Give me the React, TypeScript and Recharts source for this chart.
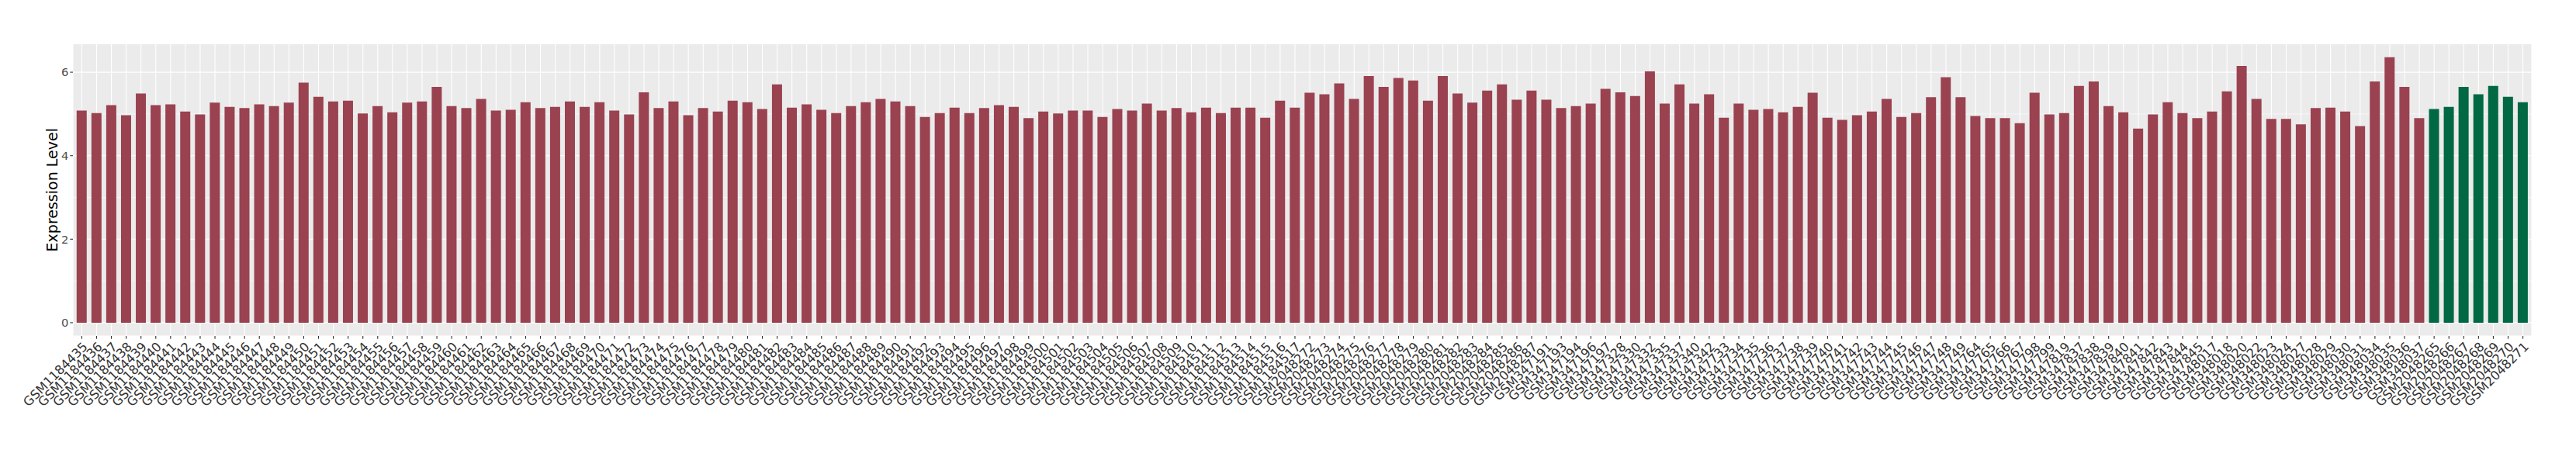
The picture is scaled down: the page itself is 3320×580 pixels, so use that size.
import { BarChart, Bar, Cell, XAxis, YAxis, CartesianGrid } from 'recharts'

// sample groups (x categories)
const SAMPLES_A = [
  'GSM1184435', 'GSM1184436', 'GSM1184437', 'GSM1184438', 'GSM1184439', 'GSM1184440', 'GSM1184441', 'GSM1184442',
  'GSM1184443', 'GSM1184444', 'GSM1184445', 'GSM1184446', 'GSM1184447', 'GSM1184448', 'GSM1184449', 'GSM1184450',
  'GSM1184451', 'GSM1184452', 'GSM1184453', 'GSM1184454', 'GSM1184455', 'GSM1184456', 'GSM1184457', 'GSM1184458',
  'GSM1184459', 'GSM1184460', 'GSM1184461', 'GSM1184462', 'GSM1184463', 'GSM1184464', 'GSM1184465', 'GSM1184466',
  'GSM1184467', 'GSM1184468', 'GSM1184469', 'GSM1184470', 'GSM1184471', 'GSM1184472', 'GSM1184473', 'GSM1184474',
  'GSM1184475', 'GSM1184476', 'GSM1184477', 'GSM1184478', 'GSM1184479', 'GSM1184480', 'GSM1184481', 'GSM1184482',
  'GSM1184483', 'GSM1184484', 'GSM1184485', 'GSM1184486', 'GSM1184487', 'GSM1184488', 'GSM1184489', 'GSM1184490',
  'GSM1184491', 'GSM1184492', 'GSM1184493', 'GSM1184494', 'GSM1184495', 'GSM1184496', 'GSM1184497', 'GSM1184498',
  'GSM1184499', 'GSM1184500', 'GSM1184501', 'GSM1184502', 'GSM1184503', 'GSM1184504', 'GSM1184505', 'GSM1184506',
  'GSM1184507', 'GSM1184508', 'GSM1184509', 'GSM1184510', 'GSM1184511', 'GSM1184512', 'GSM1184513', 'GSM1184514',
  'GSM1184515', 'GSM1184516', 'GSM1184517',
]
const SAMPLES_B = [
  'GSM2048272', 'GSM2048273', 'GSM2048274', 'GSM2048275', 'GSM2048276', 'GSM2048277', 'GSM2048278', 'GSM2048279',
  'GSM2048280', 'GSM2048281', 'GSM2048282', 'GSM2048283', 'GSM2048284', 'GSM2048285', 'GSM2048286', 'GSM2048287',
]
const SAMPLES_C = [
  'GSM347191', 'GSM347193', 'GSM347194', 'GSM347196', 'GSM347197', 'GSM347328', 'GSM347330', 'GSM347332',
  'GSM347335', 'GSM347337', 'GSM347340', 'GSM347342', 'GSM347733', 'GSM347734', 'GSM347735', 'GSM347736',
  'GSM347737', 'GSM347738', 'GSM347739', 'GSM347740', 'GSM347741', 'GSM347742', 'GSM347743', 'GSM347744',
  'GSM347745', 'GSM347746', 'GSM347747', 'GSM347748', 'GSM347749', 'GSM347764', 'GSM347765', 'GSM347766',
  'GSM347767', 'GSM347798', 'GSM347799', 'GSM347819', 'GSM347837', 'GSM347838', 'GSM347839', 'GSM347840',
  'GSM347841', 'GSM347842', 'GSM347843', 'GSM347844', 'GSM347845', 'GSM348017', 'GSM348018', 'GSM348020',
  'GSM348022', 'GSM348023', 'GSM348024', 'GSM348027', 'GSM348028', 'GSM348029', 'GSM348030', 'GSM348031',
  'GSM348034', 'GSM348035', 'GSM348036', 'GSM348037',
]
const SAMPLES_D = ['GSM2048265', 'GSM2048266', 'GSM2048267', 'GSM2048268', 'GSM2048269', 'GSM2048270', 'GSM2048271']

// expression levels
const VALUES_A = [
  5.08, 5.02, 5.21, 4.97, 5.49, 5.21, 5.23, 5.06, 4.99, 5.27,
  5.17, 5.14, 5.23, 5.19, 5.27, 5.75, 5.41, 5.30, 5.32, 5.01,
  5.19, 5.04, 5.27, 5.30, 5.65, 5.19, 5.14, 5.36, 5.08, 5.10,
  5.28, 5.14, 5.17, 5.30, 5.17, 5.28, 5.08, 4.99, 5.52, 5.14,
  5.30, 4.97, 5.14, 5.06, 5.32, 5.28, 5.12, 5.71, 5.15, 5.23,
  5.10, 5.02, 5.19, 5.28, 5.36, 5.30, 5.19, 4.93, 5.02, 5.15,
  5.02, 5.14, 5.21, 5.17, 4.90, 5.06, 5.01, 5.08, 5.08, 4.93,
  5.12, 5.08, 5.25, 5.08, 5.14, 5.04, 5.15, 5.02, 5.15, 5.15,
  4.91, 5.32, 5.15,
]
const VALUES_B = [5.51, 5.47, 5.73, 5.36, 5.91, 5.65, 5.86, 5.80, 5.32, 5.91, 5.49, 5.27, 5.56, 5.71, 5.34, 5.56]
const VALUES_C = [
  5.34, 5.14, 5.19, 5.25, 5.60, 5.52, 5.43, 6.02, 5.25, 5.71,
  5.25, 5.47, 4.91, 5.25, 5.10, 5.12, 5.04, 5.17, 5.51, 4.91,
  4.86, 4.97, 5.06, 5.36, 4.93, 5.02, 5.40, 5.88, 5.40, 4.95,
  4.90, 4.90, 4.78, 5.51, 4.99, 5.02, 5.67, 5.78, 5.19, 5.04,
  4.65, 4.99, 5.28, 5.02, 4.90, 5.06, 5.54, 6.15, 5.36, 4.88,
  4.88, 4.75, 5.14, 5.15, 5.06, 4.71, 5.78, 6.36, 5.65, 4.90,
]
const VALUES_D = [5.12, 5.17, 5.65, 5.47, 5.67, 5.41, 5.28]

const Y_DOMAIN = [-0.318, 6.68]
const Y_TICKS = [0, 2, 4, 6]
const Y_MINOR = [1, 3, 5]

const RED = '#9A4250'
const GREEN = '#006843'
const FONT = '"DejaVu Sans", sans-serif'

const data = [
  ...SAMPLES_A.map((s, i) => ({ sample: s, value: VALUES_A[i], fill: RED })),
  ...SAMPLES_B.map((s, i) => ({ sample: s, value: VALUES_B[i], fill: RED })),
  ...SAMPLES_C.map((s, i) => ({ sample: s, value: VALUES_C[i], fill: RED })),
  ...SAMPLES_D.map((s, i) => ({ sample: s, value: VALUES_D[i], fill: GREEN })),
]

function XTick(props: any) {
  const { x, y, payload } = props
  return (
    <g transform={`translate(${x},${y}) rotate(-45)`}>
      <text x={-2} y={13.8} textAnchor="end" fontSize={16.2} fontFamily={FONT} fill="#333333">
        {payload.value}
      </text>
    </g>
  )
}

function YTitle(props: any) {
  const vb = props.viewBox || { y: 56.5, height: 376.5 }
  const cx = 67
  const cy = vb.y + vb.height / 2
  return (
    <text
      x={cx}
      y={cy}
      transform={`rotate(-90 ${cx} ${cy})`}
      textAnchor="middle"
      dominantBaseline="central"
      fontSize={19}
      fontFamily={FONT}
      fill="#000"
    >
      Expression Level
    </text>
  )
}

// minor gridlines (1, 3, 5) mapped through the y axis scale
function minorLines(args: any) {
  const scale = args?.yAxis?.scale
  const map = (v: number): number => {
    if (typeof scale === 'function') return scale(v)
    if (scale && typeof scale.map === 'function') return scale.map(v)
    if (scale && typeof scale.apply === 'function') return scale.apply(v)
    const off = args.offset
    const [d0, d1] = Y_DOMAIN
    return off.top + off.height - ((v - d0) / (d1 - d0)) * off.height
  }
  return Y_MINOR.map(map)
}

export default function App() {
  return (
    <div>
      <style>{'body{margin:0;background:#fff}'}</style>
      <BarChart
        width={3320}
        height={580}
        data={data}
        margin={{ top: 56.5, right: 57, left: 0, bottom: 0 }}
        barCategoryGap="15%"
      >
        <CartesianGrid fill="#EBEBEB" fillOpacity={1} stroke="#FFFFFF" strokeWidth={1.1} />
        <CartesianGrid
          vertical={false}
          stroke="#FFFFFF"
          strokeWidth={0.55}
          horizontalCoordinatesGenerator={minorLines}
        />
        <XAxis
          dataKey="sample"
          type="category"
          interval={0}
          height={147}
          padding={{ left: 1.9, right: 1.9 }}
          axisLine={false}
          tickLine={{ stroke: '#333333', strokeWidth: 1.1 }}
          tickSize={3.7}
          tickMargin={0}
          tick={<XTick />}
        />
        <YAxis
          type="number"
          domain={Y_DOMAIN}
          ticks={Y_TICKS}
          allowDataOverflow
          width={94}
          axisLine={false}
          tickLine={{ stroke: '#333333', strokeWidth: 1.1 }}
          tickSize={3.7}
          tickMargin={2}
          tick={{ fontSize: 14.7, fontFamily: FONT, fill: '#4D4D4D' }}
          label={<YTitle />}
        />
        <Bar dataKey="value" isAnimationActive={false}>
          {data.map(d => (
            <Cell key={d.sample} fill={d.fill} />
          ))}
        </Bar>
      </BarChart>
    </div>
  )
}
